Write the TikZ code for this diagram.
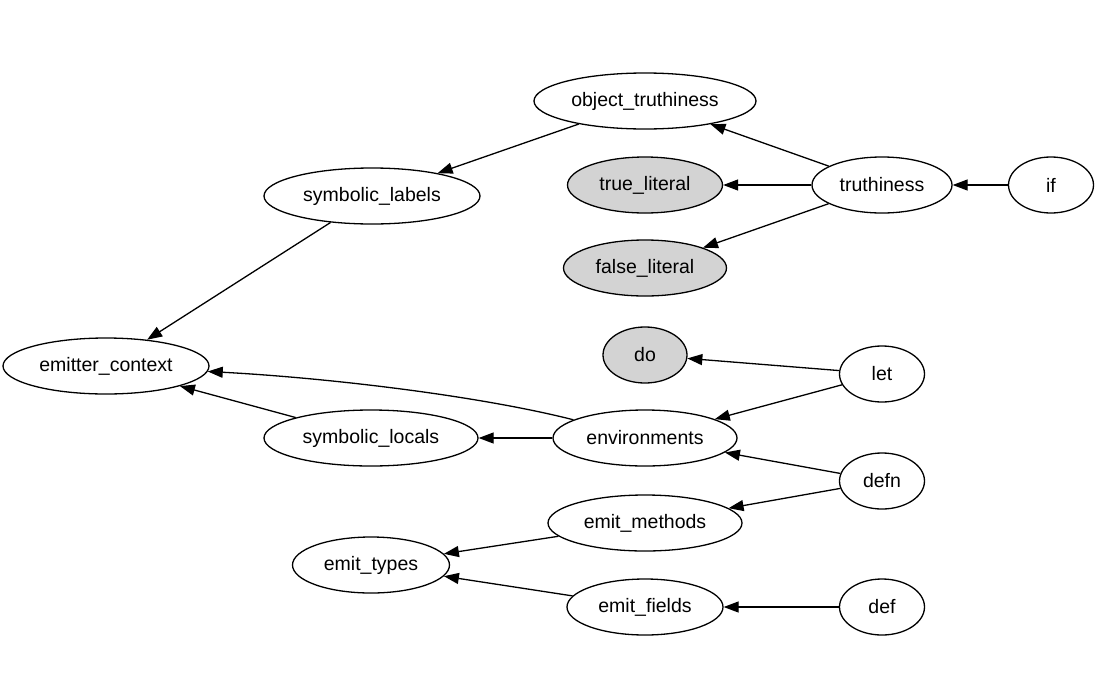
\documentclass[tikz,border=0pt]{standalone}
\usepackage{fontspec}
\setmainfont{Liberation Sans}
\usetikzlibrary{shapes.geometric,arrows.meta}
\begin{document}
\begin{tikzpicture}[x=1pt,y=-1pt,
  nd/.style={ellipse,draw=black,line width=1.3pt,inner sep=0pt,minimum height=56pt,
    font=\fontsize{19.5}{22}\selectfont,fill=white},
  grey/.style={nd,fill={rgb,255:red,211;green,211;blue,211}},
  edge/.style={line width=1.3pt,-{Triangle[length=15pt,width=11pt]}}
]
\useasboundingbox (0,0) rectangle (1097,691);
\node[nd,minimum width=222pt] (objt) at (645,101) {object\_truthiness};
\node[nd,minimum width=216pt] (syml) at (372,196) {symbolic\_labels};
\node[grey,minimum width=155pt] (truel) at (645,185) {true\_literal};
\node[nd,minimum width=140pt] (truth) at (882,185) {truthiness};
\node[nd,minimum width=85pt] (if) at (1051,185) {if};
\node[grey,minimum width=163pt] (falsel) at (645,268) {false\_literal};
\node[nd,minimum width=206pt] (emc) at (106,366) {emitter\_context};
\node[grey,minimum width=84pt] (do) at (645,355) {do};
\node[nd,minimum width=85pt] (let) at (882,374) {let};
\node[nd,minimum width=214pt] (syloc) at (371,438) {symbolic\_locals};
\node[nd,minimum width=184pt] (env) at (645,438) {environments};
\node[nd,minimum width=85pt] (defn) at (882,481) {defn};
\node[nd,minimum width=194pt] (emm) at (645,523) {emit\_methods};
\node[nd,minimum width=157pt] (emt) at (371,565) {emit\_types};
\node[nd,minimum width=156pt] (emf) at (645,607) {emit\_fields};
\node[nd,minimum width=85pt] (def) at (882,607) {def};

\draw[edge] (objt) -- (syml);
\draw[edge] (syml) -- (emc);
\draw[edge] (truth) -- (objt);
\draw[edge] (truth) -- (truel);
\draw[edge] (truth) -- (falsel);
\draw[edge] (if) -- (truth);
\draw[edge] (let) -- (do);
\draw[edge] (let) -- (env);
\draw[edge] (env) .. controls (480,396) and (330,378) .. (emc);
\draw[edge] (env) -- (syloc);
\draw[edge] (syloc) -- (emc);
\draw[edge] (defn) -- (env);
\draw[edge] (defn) -- (emm);
\draw[edge] (emm) -- (emt);
\draw[edge] (emf) -- (emt);
\draw[edge] (def) -- (emf);
\end{tikzpicture}
\end{document}
